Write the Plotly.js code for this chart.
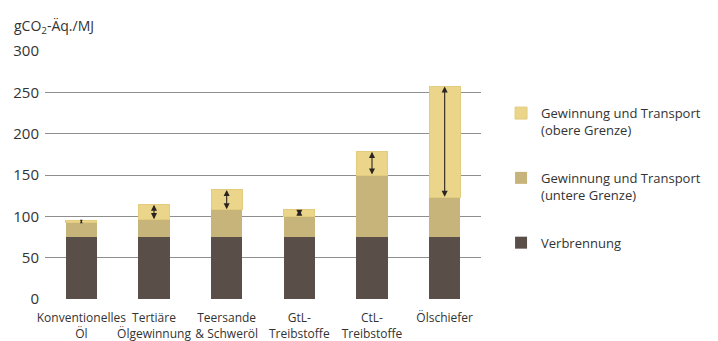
<!DOCTYPE html>
<html>
<head>
<meta charset="utf-8">
<script src="https://cdn.plot.ly/plotly-3.0.1.min.js"></script>
<style>
  html, body { margin: 0; padding: 0; background: #ffffff; }
  #chart { width: 718px; height: 341px; }
</style>
</head>
<body>
<div id="chart"></div>
<script>
// Treibhausgasemissionen verschiedener Kraftstoffpfade (gCO2-Äq./MJ)
const categories = [
  'Konventionelles<br>Öl',
  'Tertiäre<br>Ölgewinnung',
  'Teersande<br>&amp; Schweröl',
  'GtL-<br>Treibstoffe',
  'CtL-<br>Treibstoffe',
  'Ölschiefer'
];
// Emissionen aus der Verbrennung
const verbrennung = [75, 75, 75, 75, 75, 75];
// Gesamtwert inkl. Gewinnung und Transport, untere Grenze
const gesamtUntere = [92, 96, 108, 100, 150, 123];
// Gesamtwert inkl. Gewinnung und Transport, obere Grenze
const gesamtObere = [95, 114, 132, 108, 178, 257];

const yTicks = [0, 50, 100, 150, 200, 250, 300];

const idx = categories.map((_, i) => i);
const segUntere = gesamtUntere.map((v, i) => v - verbrennung[i]);
const segObere = gesamtObere.map((v, i) => v - gesamtUntere[i]);

const colBrown = '#5a4e49';
const colTan = '#c6b47b';
const colYellow = '#ead58a';

const traces = [
  {
    type: 'bar', x: idx, y: verbrennung, name: 'Verbrennung',
    marker: { color: colBrown, line: { width: 0 } },
    legendgroup: 'verbrennung', legendrank: 3, hoverinfo: 'skip'
  },
  {
    type: 'bar', x: idx, y: segUntere, name: 'Gewinnung und Transport<br>(untere Grenze)',
    marker: { color: colTan, line: { width: 0 } },
    legendgroup: 'untere', legendrank: 2, hoverinfo: 'skip'
  },
  {
    type: 'bar', x: idx, y: segObere, name: 'Gewinnung und Transport<br>(obere Grenze)',
    marker: { color: colYellow, line: { color: '#e3cc7e', width: 1 } },
    legendgroup: 'obere', legendrank: 1, hoverinfo: 'skip'
  }
];

// Doppelpfeile für die Spanne zwischen unterer und oberer Grenze;
// bei sehr kurzer Spanne kleinere Pfeilspitzen, damit sie sichtbar bleiben
const arrows = idx.map(i => {
  const span = gesamtObere[i] - gesamtUntere[i];
  return {
    x: i, y: gesamtObere[i],
    ax: i, ay: gesamtUntere[i],
    xref: 'x', yref: 'y', axref: 'x', ayref: 'y',
    text: '', font: { size: 1 }, borderpad: 0,
    showarrow: true,
    arrowside: 'end+start', arrowhead: 2,
    arrowsize: span < 5 ? 0.5 : 1.1,
    arrowwidth: 1.1,
    arrowcolor: '#2b2522'
  };
});

const layout = {
  width: 718, height: 341,
  margin: { l: 45, r: 213, t: 51, b: 42 },
  paper_bgcolor: '#ffffff', plot_bgcolor: '#ffffff',
  font: { family: 'Open Sans, sans-serif', color: '#333333' },
  barmode: 'stack',
  bargap: 0.57,
  showlegend: true,
  legend: {
    x: 1.046, y: 0.81, xanchor: 'left', yanchor: 'top',
    traceorder: 'grouped', valign: 'top',
    font: { size: 13, color: '#333333', family: 'Open Sans, sans-serif' },
    tracegroupgap: 28,
    bgcolor: 'rgba(0,0,0,0)'
  },
  xaxis: {
    range: [-0.5, 5.5],
    tickvals: idx, ticktext: categories,
    tickangle: 0,
    ticklabelstandoff: 10,
    showgrid: false, zeroline: false, showline: false,
    ticks: '', tickfont: { size: 12, color: '#333333' },
    fixedrange: true
  },
  yaxis: {
    range: [0, 300],
    tickvals: yTicks,
    showgrid: true, gridcolor: '#8e8e8e', gridwidth: 1,
    zeroline: false, showline: false, ticks: '',
    ticklabelstandoff: 5,
    tickfont: { size: 15, color: '#333333' },
    fixedrange: true
  },
  annotations: arrows.concat([{
    xref: 'paper', yref: 'paper', x: -0.075, y: 1.048,
    xanchor: 'left', yanchor: 'bottom', showarrow: false,
    text: 'gCO<sub>2</sub>-Äq./MJ',
    font: { size: 14, color: '#333333' }
  }])
};

Plotly.newPlot('chart', traces, layout, { staticPlot: true, displayModeBar: false });
</script>
</body>
</html>
